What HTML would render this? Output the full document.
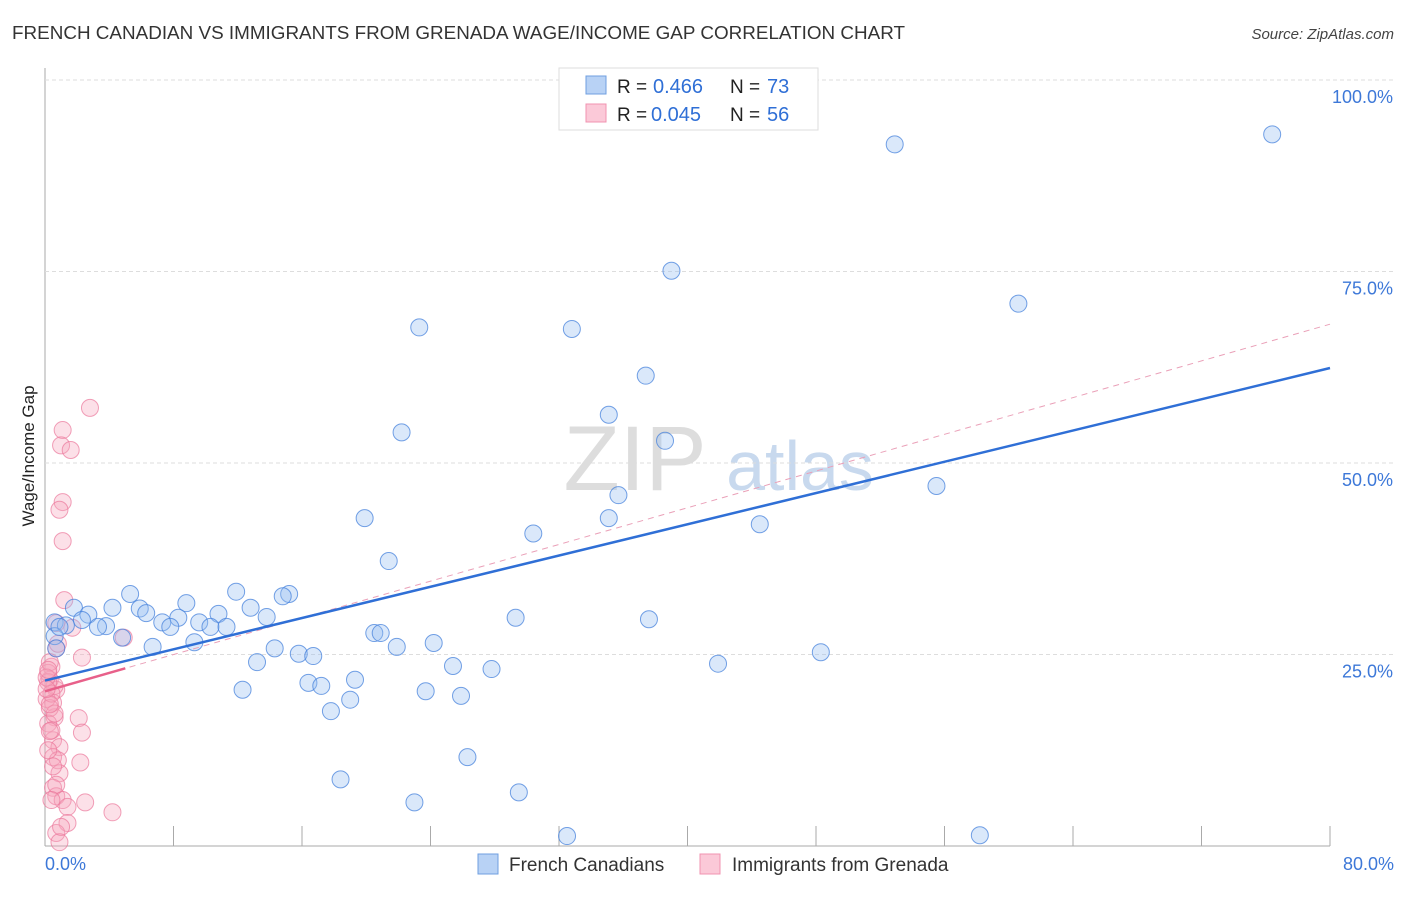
<!DOCTYPE html>
<html><head><meta charset="utf-8"><style>
body{margin:0;background:#fff;font-family:"Liberation Sans",sans-serif}
svg text{font-family:"Liberation Sans",sans-serif}
</style></head><body>
<svg id="c" width="1406" height="892" xmlns="http://www.w3.org/2000/svg">
<text x="12" y="39" font-size="18" fill="#333" textLength="893" lengthAdjust="spacingAndGlyphs">FRENCH CANADIAN VS IMMIGRANTS FROM GRENADA WAGE/INCOME GAP CORRELATION CHART</text>
<text x="1394" y="39" font-size="15" font-style="italic" fill="#444" text-anchor="end">Source: ZipAtlas.com</text>
<text x="34" y="456" font-size="17" fill="#222" text-anchor="middle" transform="rotate(-90 34 456)">Wage/Income Gap</text>
<text x="635" y="490" font-size="92" fill="#ddd" font-family="Liberation Serif" text-anchor="middle">ZIP</text>
<text x="800" y="490" font-size="70" fill="#c8d9ee" text-anchor="middle">atlas</text>
<g id="grid"></g><g id="pts"></g><g id="lines"></g>
<g>
<rect x="559" y="68" width="259" height="62" fill="#fff" stroke="#ddd"/>
<rect x="586" y="76" width="20" height="18" fill="#b8d2f5" stroke="#6f9fe0"/>
<rect x="586" y="104" width="20" height="18" fill="#fbc9d8" stroke="#f093b0"/>
<text x="617" y="93" font-size="19" fill="#222">R =</text><text x="653" y="93" font-size="20" fill="#2f6fd6">0.466</text>
<text x="730" y="93" font-size="19" fill="#222">N =</text><text x="767" y="93" font-size="20" fill="#2f6fd6">73</text>
<text x="617" y="121" font-size="19" fill="#222">R =</text><text x="651" y="121" font-size="20" fill="#2f6fd6">0.045</text>
<text x="730" y="121" font-size="19" fill="#222">N =</text><text x="767" y="121" font-size="20" fill="#2f6fd6">56</text>
</g>
<g>
<rect x="478" y="854" width="20" height="20" fill="#b8d2f5" stroke="#6f9fe0"/>
<text x="509" y="871" font-size="19" fill="#333">French Canadians</text>
<rect x="700" y="854" width="20" height="20" fill="#fbc9d8" stroke="#f093b0"/>
<text x="732" y="871" font-size="19" fill="#333">Immigrants from Grenada</text>
</g>
</svg>
<script>
const xTicks=[0,8,16,24,32,40,48,56,64,72,80];
const yTicks=[25,50,75,100];
const blueX=[76.4,52.9,39.0,60.6,23.3,32.8,37.4,22.2,35.1,38.6,35.7,55.5,19.9,35.1,30.4,44.5,21.4,11.9,15.2,14.8,5.3,8.8,4.2,1.8,2.7,5.9,6.3,12.8,10.8,13.8,8.3,7.3,7.8,9.6,10.3,11.3,3.8,3.3,2.3,0.6,1.3,0.6,4.8,6.7,9.3,29.3,37.6,20.5,20.9,21.9,24.2,14.3,15.8,16.7,13.2,25.4,27.8,41.9,48.3,12.3,16.4,17.2,19.3,23.7,25.9,19.0,17.8,26.3,18.4,29.5,23.0,32.5,58.2,0.9,0.7];
const blueY=[92.9,91.6,75.1,70.8,67.7,67.5,61.4,54.0,56.3,52.9,45.8,47.0,42.8,42.8,40.8,42.0,37.2,33.2,32.9,32.6,32.9,31.7,31.1,31.1,30.2,31.0,30.4,31.1,30.3,29.9,29.8,29.2,28.6,29.2,28.6,28.6,28.7,28.6,29.5,29.2,28.8,27.4,27.2,26.0,26.6,29.8,29.6,27.8,27.8,26.0,26.5,25.8,25.1,24.8,24.0,23.5,23.1,23.8,25.3,20.4,21.3,20.9,21.7,20.2,19.6,19.1,17.6,11.6,8.7,7.0,5.7,1.3,1.4,28.6,25.8];
const pinkX=[2.8,1.1,1.0,1.6,1.1,0.9,1.1,1.2,0.7,1.7,4.9,0.7,2.3,0.4,0.3,0.7,0.5,0.6,2.1,2.3,0.5,0.9,0.5,0.8,2.2,0.9,0.5,0.7,1.1,2.5,1.4,4.2,1.4,0.7,0.9,0.2,0.1,0.3,0.2,0.4,0.8,0.3,0.6,0.2,0.4,0.1,0.6,0.3,0.2,0.5,0.7,1.0,0.4,0.2,0.3,0.1];
const pinkY=[57.2,54.3,52.3,51.7,44.9,43.9,39.8,32.1,29.1,28.5,27.2,25.8,24.6,23.4,21.7,20.4,18.7,16.8,16.7,14.8,13.8,12.9,11.6,11.2,10.9,9.5,7.6,6.5,6.0,5.7,5.1,4.4,3.0,1.7,0.5,22.6,19.2,18.0,16.0,15.1,26.4,24.0,20.9,21.4,19.9,22.0,17.3,15.0,12.5,10.4,8.0,2.5,6.0,23.0,18.5,20.5];
const blueTrend=[21.6,0.51];
const pinkTrend=[20.2,0.599];
const pinkSolidEnd=5;
const X=v=>45+v/80*1285, Y=v=>846-v*7.66;
const NS="http://www.w3.org/2000/svg";
function mk(t,a,p){const e=document.createElementNS(NS,t);for(const k in a)e.setAttribute(k,a[k]);p.appendChild(e);return e;}
const g=document.getElementById('grid'),P=document.getElementById('pts'),L=document.getElementById('lines');
let ax=mk('line',{x1:45,y1:68,x2:45,y2:846,stroke:'#aaa'},g);


let bx=mk('line',{x1:45,y1:846,x2:1330,y2:846,stroke:'#aaa'},g);


yTicks.forEach(v=>{
 let l=mk('line',{x1:45,x2:1394,y1:Y(v),y2:Y(v),stroke:'#ddd','stroke-dasharray':'4,3'},g);
 
 
 let t=mk('text',{x:1393,y:Y(v)+23,'font-size':18,fill:'#3d78d8','text-anchor':'end'},g);t.textContent=v.toFixed(1)+'%';
 
 
});
xTicks.forEach(v=>{
 let l=mk('line',{x1:X(v),x2:X(v),y1:826,y2:846,stroke:'#aaa'},g);
 
 
});
[[0,'start',45],[80,'end',1394]].forEach(([v,a,x])=>{let t=mk('text',{x:x,y:870,'font-size':18,fill:'#3d78d8','text-anchor':a},g);t.textContent=v.toFixed(1)+'%';
 
 });
pinkX.forEach((x,i)=>{let c=mk('circle',{cx:X(x),cy:Y(pinkY[i]),r:8.5,fill:'rgba(247,165,190,0.35)',stroke:'rgba(235,120,155,0.7)','stroke-width':1},P);
 
 });
blueX.forEach((x,i)=>{let c=mk('circle',{cx:X(x),cy:Y(blueY[i]),r:8.5,fill:'rgba(150,190,240,0.35)',stroke:'rgba(70,130,220,0.75)','stroke-width':1},P);
 
 });
let pd=mk('line',{x1:X(0),y1:Y(pinkTrend[0]),x2:X(80),y2:Y(pinkTrend[0]+80*pinkTrend[1]),stroke:'#eaa0b8','stroke-dasharray':'6,5','stroke-width':1},L);


let ps=mk('line',{x1:X(0),y1:Y(pinkTrend[0]),x2:X(pinkSolidEnd),y2:Y(pinkTrend[0]+pinkSolidEnd*pinkTrend[1]),stroke:'#e8608a','stroke-width':2.5},L);


let bl=mk('line',{x1:X(0),y1:Y(blueTrend[0]),x2:X(80),y2:Y(blueTrend[0]+80*blueTrend[1]),stroke:'#2f6fd6','stroke-width':2.5},L);


</script>
</body></html>
